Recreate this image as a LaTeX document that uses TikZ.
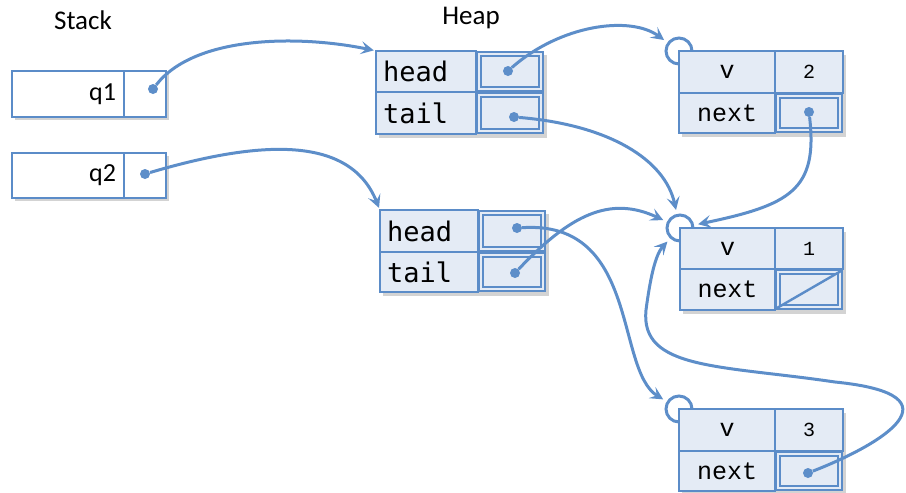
\documentclass[tikz,border=0pt]{standalone}
\usepackage{fontspec}
\setmainfont{Carlito}
\newfontfamily\codesans{DejaVu Sans Mono}
\newfontfamily\courier{Liberation Mono}
\usetikzlibrary{shadows,arrows.meta,calc}
\definecolor{edge}{RGB}{91,140,200}
\definecolor{cellfill}{RGB}{228,235,245}
\definecolor{linkc}{RGB}{93,142,201}
\tikzset{
  title/.style={font=\fontsize{27}{32}\selectfont, inner sep=0pt},
  stackcell/.style={draw=edge, line width=1.3pt, fill=white, inner sep=0pt,
    font=\fontsize{26}{30}\selectfont,
    drop shadow={opacity=0.35, shadow xshift=2.5pt, shadow yshift=-3pt}},
  boxshadow/.style={fill=cellfill, draw=none, inner sep=0pt,
    drop shadow={opacity=0.35, shadow xshift=3pt, shadow yshift=-3.5pt}},
  lbl/.style={draw=edge, line width=1.4pt, fill=cellfill, inner sep=0pt},
  namecell/.style={lbl, text width=#1, align=left, inner xsep=7pt,
    font=\codesans\fontsize{27}{30}\selectfont},
  fieldcell/.style={lbl, font=\courier\fontsize{25}{28}\selectfont},
  valcell/.style={lbl, font=\courier\fontsize{20}{22}\selectfont},
  ptrcell/.style={draw=edge, line width=2pt, double=cellfill,
    double distance=2.2pt, fill=cellfill, inner sep=0pt},
  dotn/.style={circle, fill=linkc, inner sep=0pt, minimum size=10pt},
  ring/.style={circle, draw=linkc, line width=3pt, fill=white,
    inner sep=0pt, minimum size=26pt},
  link/.style={draw=linkc, line width=3pt,
    -{Stealth[length=13pt,width=13pt,inset=5.5pt]}},
}
\begin{document}
\begin{tikzpicture}[x=1pt,y=-1pt]
\useasboundingbox (0,0) rectangle (906,493);

\node[title] (stk) at (83,20) {Stack};
\node[title] (hp) at (471,18) {Heap};

% ---------- stack ----------
\node[stackcell, minimum height=46pt, text width=96pt, align=right,
  inner xsep=8pt] (s1) at (68,94) {q1};
\node[stackcell, minimum width=42pt, minimum height=46pt] (s1p) at (145,94) {};
\node[stackcell, minimum height=45pt, text width=96pt, align=right,
  inner xsep=8pt] (s2) at (68,175.5) {q2};
\node[stackcell, minimum width=42pt, minimum height=45pt] (s2p) at (145,175.5) {};

% ---------- rings ----------
\node[ring] (c2) at (679,51) {};
\node[ring] (c1) at (680,228) {};
\node[ring] (c3) at (679,409) {};

% ---------- queue 1 ----------
\node[boxshadow, minimum width=168pt, minimum height=83pt] (hb1) at (460,92.5) {};
\node[namecell=86pt, minimum height=41pt] (h1l) at (426,71.5) {head};
\node[namecell=86pt, minimum height=42pt] (t1l) at (426,113) {tail};
\node[ptrcell, minimum width=62pt, minimum height=35pt] (h1p) at (510,71.5) {};
\node[ptrcell, minimum width=62pt, minimum height=36pt] (t1p) at (510,113) {};

% ---------- queue 2 ----------
\node[boxshadow, minimum width=166pt, minimum height=82pt] (hb2) at (463,251) {};
\node[namecell=84pt, minimum height=42pt] (h2l) at (429,231) {head};
\node[namecell=84pt, minimum height=40pt] (t2l) at (429,272) {tail};
\node[ptrcell, minimum width=62pt, minimum height=36pt] (h2p) at (512,231) {};
\node[ptrcell, minimum width=62pt, minimum height=34pt] (t2p) at (512,272) {};

% ---------- list node 2 ----------
\node[boxshadow, minimum width=164pt, minimum height=82pt] (nb2) at (761,92) {};
\node[fieldcell, minimum width=96pt, minimum height=42pt] (n2v) at (727,72) {v};
\node[valcell, minimum width=68pt, minimum height=42pt] (n2x) at (809,72) {2};
\node[fieldcell, minimum width=96pt, minimum height=40pt] (n2n) at (727,113) {next};
\node[ptrcell, minimum width=62pt, minimum height=34pt] (n2p) at (809,113) {};

% ---------- list node 1 ----------
\node[boxshadow, minimum width=163pt, minimum height=82pt] (nb1) at (761.5,269) {};
\node[fieldcell, minimum width=95pt, minimum height=41pt] (n1v) at (727.5,248.5) {v};
\node[valcell, minimum width=68pt, minimum height=41pt] (n1x) at (809,248.5) {1};
\node[fieldcell, minimum width=95pt, minimum height=41pt] (n1n) at (727.5,289.5) {next};
\node[ptrcell, minimum width=62pt, minimum height=35pt] (n1p) at (809,289.5) {};
\draw[edge, line width=2.4pt] (n1p.south west) -- (n1p.north east);

% ---------- list node 3 ----------
\node[boxshadow, minimum width=164pt, minimum height=82pt] (nb3) at (761,450) {};
\node[fieldcell, minimum width=96pt, minimum height=42pt] (n3v) at (727,430) {v};
\node[valcell, minimum width=68pt, minimum height=42pt] (n3x) at (809,430) {3};
\node[fieldcell, minimum width=96pt, minimum height=40pt] (n3n) at (727,471) {next};
\node[ptrcell, minimum width=62pt, minimum height=34pt] (n3p) at (809,471) {};

% ---------- dots ----------
\node[dotn] (s1d) at (153,89) {};
\node[dotn] (s2d) at (145,174) {};
\node[dotn] (h1d) at (508,71) {};
\node[dotn] (t1d) at (514,117) {};
\node[dotn] (h2d) at (517,228) {};
\node[dotn] (t2d) at (515,273) {};
\node[dotn] (n2d) at (809,112) {};
\node[dotn] (n3d) at (808,473) {};

% ---------- connectors ----------
\draw[link, shorten >=2pt] (s1d) .. controls (195,35) and (300,35) .. (hb1.north west);
\draw[link, shorten >=2pt] (s2d) .. controls (260,140) and (350,135) .. (hb2.north west);
\draw[link, shorten >=4pt] (h1d) .. controls (560,25) and (630,15) .. (c2);
\draw[link, shorten >=4pt] (t1d) .. controls (610,125) and (665,160) .. (c1);
\draw[link, shorten >=4pt] (n2d) .. controls (818,190) and (790,205) .. (c1);
\draw[link, shorten >=4pt] (h2d) .. controls (640,220) and (615,370) .. (c3);
\draw[link, shorten >=4pt] (t2d) .. controls (570,215) and (610,195) .. (c1);
\draw[link, shorten >=4pt] (n3d) .. controls (880,445) and (965,395) .. (835,382)
  .. controls (720,365) and (640,370) .. (646,310)
  .. controls (650,280) and (655,255) .. (c1);
\end{tikzpicture}
\end{document}
